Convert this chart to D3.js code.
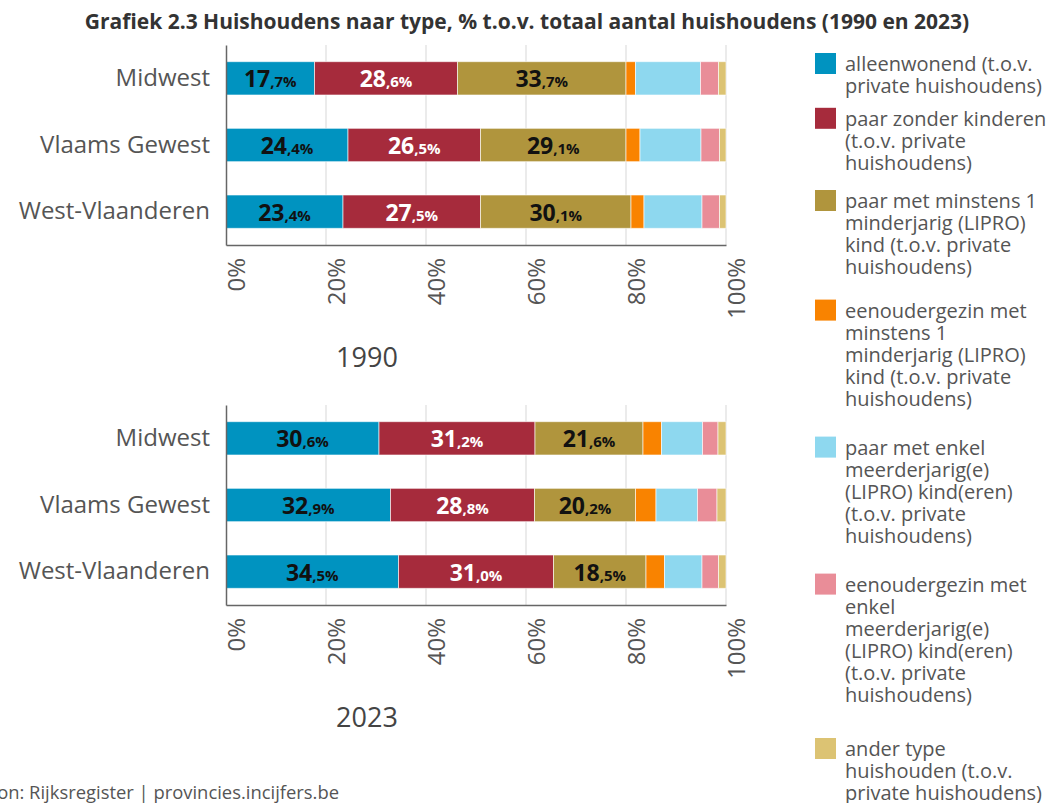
<!DOCTYPE html>
<html>
<head>
<meta charset="utf-8">
<script src="https://cdn.jsdelivr.net/npm/d3@7"></script>
<style>
  body { margin: 0; background: #fff; }
  svg { display: block; font-family: "Open Sans", sans-serif; }
</style>
</head>
<body>
<script>
var width = 1061,
    height = 803;

var regions = ['Midwest', 'Vlaams Gewest', 'West-Vlaanderen'];
var years = ['1990', '2023'];

var series = [
  'alleenwonend (t.o.v. private huishoudens)',
  'paar zonder kinderen (t.o.v. private huishoudens)',
  'paar met minstens 1 minderjarig (LIPRO) kind (t.o.v. private huishoudens)',
  'eenoudergezin met minstens 1 minderjarig (LIPRO) kind (t.o.v. private huishoudens)',
  'paar met enkel meerderjarig(e) (LIPRO) kind(eren) (t.o.v. private huishoudens)',
  'eenoudergezin met enkel meerderjarig(e) (LIPRO) kind(eren) (t.o.v. private huishoudens)',
  'ander type huishouden (t.o.v. private huishoudens)'
];

// legend text wrapped as in the picture
var legendLines = [
  ['alleenwonend (t.o.v.', 'private huishoudens)'],
  ['paar zonder kinderen', '(t.o.v. private', 'huishoudens)'],
  ['paar met minstens 1', 'minderjarig (LIPRO)', 'kind (t.o.v. private', 'huishoudens)'],
  ['eenoudergezin met', 'minstens 1', 'minderjarig (LIPRO)', 'kind (t.o.v. private', 'huishoudens)'],
  ['paar met enkel', 'meerderjarig(e)', '(LIPRO) kind(eren)', '(t.o.v. private', 'huishoudens)'],
  ['eenoudergezin met', 'enkel', 'meerderjarig(e)', '(LIPRO) kind(eren)', '(t.o.v. private', 'huishoudens)'],
  ['ander type', 'huishouden (t.o.v.', 'private huishoudens)']
];

var colors = ['#0093c0', '#a62b3c', '#b0953d', '#f98300', '#8ed8ef', '#e98d98', '#dcc373'];
var labelColors = ['#111', '#fff', '#111'];

// % per region, one array per series
var values1990 = [
  [17.7, 24.4, 23.4],
  [28.6, 26.5, 27.5],
  [33.7, 29.1, 30.1],
  [1.9, 2.8, 2.6],
  [13.0, 12.2, 11.6],
  [3.6, 3.7, 3.5],
  [1.5, 1.3, 1.3]
];
var values2023 = [
  [30.6, 32.9, 34.5],
  [31.2, 28.8, 31.0],
  [21.6, 20.2, 18.5],
  [3.7, 4.1, 3.7],
  [8.2, 8.3, 7.5],
  [3.1, 3.9, 3.3],
  [1.6, 1.8, 1.5]
];

var xTicks = [0, 20, 40, 60, 80, 100];

var svg = d3.select('body').append('svg')
  .attr('width', width)
  .attr('height', height);

svg.append('text')
  .attr('x', 527)
  .attr('y', 29)
  .attr('text-anchor', 'middle')
  .attr('font-size', 21)
  .attr('font-weight', 'bold')
  .attr('fill', '#333')
  .text('Grafiek 2.3 Huishoudens naar type, % t.o.v. totaal aantal huishoudens (1990 en 2023)');

var x = d3.scaleLinear().domain([0, 100]).range([226, 726]);

function panel(top, year, values) {
  var y = d3.scaleBand().domain(regions).range([top, top + 200])
    .paddingInner(0.5).paddingOuter(0.25);
  var g = svg.append('g');

  g.selectAll('line.grid')
    .data(xTicks.slice(1))
    .enter().append('line')
    .attr('class', 'grid')
    .attr('x1', function(d) { return x(d); })
    .attr('x2', function(d) { return x(d); })
    .attr('y1', top)
    .attr('y2', top + 200)
    .attr('stroke', '#ebebeb')
    .attr('stroke-width', 2);

  var rows = regions.map(function(r, i) {
    var acc = 0;
    return values.map(function(s, j) {
      var d = { region: r, s: j, v: s[i], x0: acc };
      acc += s[i];
      d.x1 = acc;
      return d;
    });
  });
  var segs = [].concat.apply([], rows);

  g.selectAll('rect')
    .data(segs)
    .enter().append('rect')
    .attr('x', function(d) { return x(d.x0); })
    .attr('width', function(d) { return x(d.x1) - x(d.x0); })
    .attr('y', function(d) { return y(d.region); })
    .attr('height', y.bandwidth())
    .attr('fill', function(d) { return colors[d.s]; })
    .attr('stroke', '#fff')
    .attr('stroke-opacity', 0.6)
    .attr('stroke-width', 1);

  var lab = g.selectAll('text.val')
    .data(segs.filter(function(d) { return d.s < 3; }))
    .enter().append('text')
    .attr('class', 'val')
    .attr('x', function(d) { return x((d.x0 + d.x1) / 2); })
    .attr('y', function(d) { return y(d.region) + y.bandwidth() / 2 + 9; })
    .attr('text-anchor', 'middle')
    .attr('font-weight', 'bold')
    .attr('fill', function(d) { return labelColors[d.s]; });
  lab.append('tspan')
    .attr('font-size', 23)
    .text(function(d) { return String(Math.floor(d.v)); });
  lab.append('tspan')
    .attr('font-size', 15)
    .text(function(d) { return ',' + d.v.toFixed(1).split('.')[1] + '%'; });

  // axes
  var yAxis = g.append('g')
    .attr('transform', 'translate(226,0)')
    .call(d3.axisLeft(y).tickSize(0).tickPadding(16));
  yAxis.select('.domain').attr('stroke', '#666').attr('stroke-width', 1.5);
  yAxis.selectAll('text')
    .attr('font-size', 24)
    .attr('fill', '#555')
    .attr('font-family', '"Open Sans", sans-serif');

  var xAxis = g.append('g')
    .attr('transform', 'translate(0,' + (top + 200) + ')')
    .call(d3.axisBottom(x).tickValues(xTicks).tickSize(0)
      .tickFormat(function(d) { return d + '%'; }));
  xAxis.select('.domain').attr('stroke', '#666').attr('stroke-width', 1.5);
  xAxis.selectAll('text')
    .attr('font-size', 24)
    .attr('fill', '#555')
    .attr('font-family', '"Open Sans", sans-serif')
    .attr('text-anchor', 'end')
    .attr('transform', 'translate(10,13) rotate(-90)')
    .attr('x', 0)
    .attr('y', 0)
    .attr('dy', '0.35em');

  g.append('text')
    .attr('x', 367)
    .attr('y', top + 322)
    .attr('text-anchor', 'middle')
    .attr('font-size', 27)
    .attr('fill', '#444')
    .text(year);
}

panel(45, years[0], values1990);
panel(405, years[1], values2023);

// legend
var lineH = 22, itemStep = 27.4;
var cum = 0;
var legend = svg.append('g');
legendLines.forEach(function(lines, i) {
  var top = 53 + itemStep * cum;
  cum += lines.length;
  var item = legend.append('g');
  item.append('rect')
    .attr('x', 815)
    .attr('y', top)
    .attr('width', 21)
    .attr('height', 21)
    .attr('fill', colors[i]);
  item.append('title').text(series[i]);
  item.selectAll('text')
    .data(lines)
    .enter().append('text')
    .attr('x', 845)
    .attr('y', function(d, k) { return top + 18 + k * lineH; })
    .attr('font-size', 20)
    .attr('fill', '#555')
    .text(function(d) { return d; });
});

svg.append('text')
  .attr('x', 339)
  .attr('y', 799)
  .attr('text-anchor', 'end')
  .attr('font-size', 18.4)
  .attr('fill', '#555')
  .text('Bron: Rijksregister | provincies.incijfers.be');
</script>
</body>
</html>
